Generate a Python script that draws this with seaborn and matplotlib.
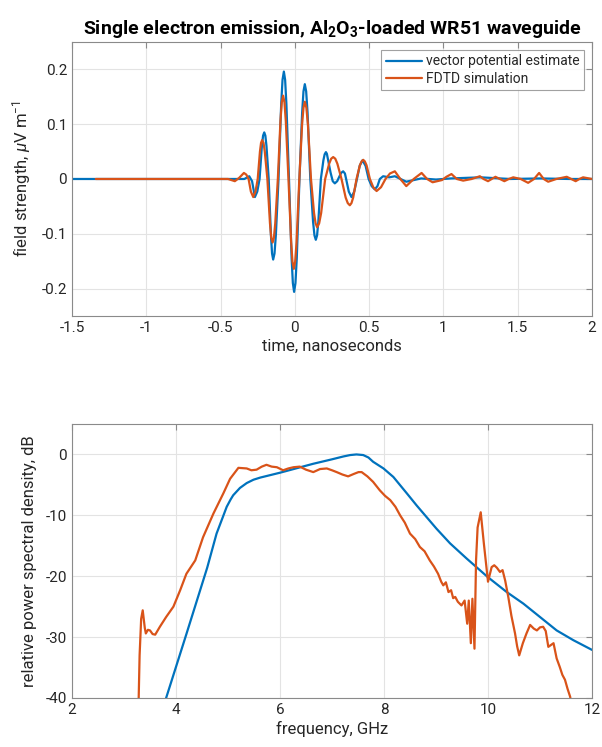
import numpy as np
import pandas as pd
import matplotlib
matplotlib.use("Agg")
import matplotlib.pyplot as plt
import seaborn as sns

# ---------------- data ----------------
# Top panel: time-domain field (ns, uV/m)
vp_time = [-1.50, -0.340, -0.307, -0.288, -0.269, -0.253, -0.2375, -0.222, -0.214, -0.206,
           -0.1985, -0.191, -0.176, -0.161, -0.1535, -0.146, -0.137, -0.128, -0.110,
           -0.092, -0.083, -0.074, -0.0655, -0.057, -0.0395, -0.022, -0.0135, -0.005,
           0.004, 0.013, 0.031, 0.049, 0.058, 0.067, 0.076, 0.0855, 0.104, 0.1225,
           0.132, 0.141, 0.1495, 0.158, 0.175, 0.192, 0.2005, 0.209, 0.2155,
           0.222, 0.240, 0.255, 0.269, 0.285, 0.297, 0.311, 0.325,
           0.337, 0.345, 0.363, 0.381, 0.3995, 0.418, 0.4365, 0.455,
           0.476, 0.4965, 0.517, 0.538, 0.556, 0.572, 0.594, 0.635,
           0.673, 0.75, 0.85, 0.95, 1.05, 1.25, 1.45, 1.65, 1.85, 2.00]
vp_field = [0.000, 0.000, 0.005, -0.004, -0.033, -0.023, 0.000, 0.060, 0.079, 0.085,
            0.079, 0.060, 0.000, -0.103, -0.136, -0.147, -0.136, -0.103, 0.000,
            0.137, 0.181, 0.196, 0.181, 0.137, 0.000, -0.144, -0.190, -0.206,
            -0.190, -0.144, 0.000, 0.121, 0.160, 0.173, 0.160, 0.121, 0.000, -0.078,
            -0.103, -0.111, -0.103, -0.078, 0.000, 0.034, 0.045, 0.049, 0.046,
            0.037, 0.012, -0.004, -0.008, -0.004, 0.003, 0.011, 0.014,
            0.010, 0.000, -0.023, -0.033, -0.023, 0.000, 0.024, 0.034,
            0.024, 0.000, -0.013, -0.019, -0.013, 0.000, 0.005, 0.003,
            0.005, -0.005, 0.001, -0.001, 0.001, 0.003, 0.000, 0.001, 0.000, 0.000]

fdtd_time = [-1.34, -0.45, -0.404, -0.375, -0.343, -0.327, -0.3115, -0.296, -0.28,
             -0.265, -0.25, -0.235, -0.2275, -0.22, -0.211, -0.2025, -0.185, -0.1675,
             -0.159, -0.15, -0.141, -0.132, -0.1145, -0.097, -0.088, -0.079, -0.070,
             -0.061, -0.043, -0.025, -0.016, -0.007, 0.002, 0.0115, 0.030, 0.0485,
             0.058, 0.067, 0.0775, 0.088, 0.1085, 0.129, 0.1395, 0.15, 0.1635,
             0.177, 0.204, 0.231, 0.2445, 0.258, 0.272, 0.286, 0.314, 0.342, 0.356, 0.37,
             0.381, 0.3925, 0.415, 0.4375, 0.449, 0.46, 0.471, 0.4825, 0.505, 0.5275, 0.55,
             0.58, 0.61, 0.64, 0.673, 0.71, 0.75, 0.80, 0.853, 0.89, 0.927,
             0.99, 1.02, 1.054, 1.09, 1.133, 1.19, 1.245, 1.27, 1.30, 1.325,
             1.35, 1.38, 1.41, 1.44, 1.47, 1.52, 1.57, 1.61, 1.644, 1.675,
             1.705, 1.76, 1.83, 1.86, 1.89, 1.915, 1.94, 2.00]
fdtd_field = [0.000, 0.000, -0.004, 0.002, 0.011, 0.008, 0.000, -0.023, -0.033,
              -0.023, 0.000, 0.050, 0.066, 0.071, 0.066, 0.050, 0.000, -0.081,
              -0.107, -0.116, -0.107, -0.081, 0.000, 0.106, 0.140, 0.152, 0.140,
              0.106, 0.000, -0.115, -0.151, -0.164, -0.151, -0.115, 0.000, 0.099,
              0.130, 0.141, 0.130, 0.099, 0.000, -0.062, -0.081, -0.088, -0.081,
              -0.062, 0.000, 0.028, 0.037, 0.040, 0.037, 0.028, 0.000, -0.034, -0.044, -0.048,
              -0.044, -0.034, 0.000, 0.025, 0.032, 0.035, 0.032, 0.025, 0.000, -0.015, -0.022,
              -0.015, 0.000, 0.010, 0.014, 0.000, -0.013, 0.000, 0.011, 0.000, -0.006,
              -0.002, 0.004, 0.009, 0.000, -0.003, 0.000, 0.005, 0.000, -0.004, 0.000,
              0.004, 0.000, -0.004, 0.000, 0.003, 0.000, -0.007, 0.000, 0.011, 0.000,
              -0.005, 0.000, 0.004, 0.000, -0.004, 0.000, 0.003, 0.000]

# Bottom panel: relative power spectral density (GHz, dB)
vp_freq = [3.70, 3.81, 4.20, 4.60, 4.78, 4.90, 4.975, 5.05, 5.10, 5.23, 5.36, 5.49,
           5.62, 6.00, 6.64, 7.00, 7.22, 7.35, 7.47, 7.60, 7.70, 7.79, 7.99, 8.18,
           8.44, 8.63, 8.82, 9.01, 9.27, 9.59, 9.99, 10.36, 10.68, 11.00, 11.32,
           11.64, 12.00]
vp_psd = [-43.0, -40.0, -29.5, -18.6, -13.0, -10.3, -8.6, -7.4, -6.7, -5.5, -4.7, -4.15,
          -3.8, -3.0, -1.53, -0.8, -0.33, -0.1, 0.0, -0.1, -0.5, -1.2, -2.3, -3.7,
          -6.4, -8.4, -10.3, -12.2, -14.6, -17.1, -20.1, -22.6, -24.5, -26.7, -28.9,
          -30.5, -32.1]

fdtd_freq = [3.27, 3.30, 3.33, 3.36, 3.40, 3.42, 3.46, 3.50, 3.55, 3.60, 3.69,
             3.81, 3.95, 4.08, 4.20, 4.37, 4.52, 4.72, 4.91, 5.04, 5.20, 5.36,
             5.45, 5.55, 5.65, 5.74, 5.84, 5.94, 6.06, 6.16, 6.26, 6.38, 6.50,
             6.64, 6.77, 6.90, 7.00, 7.09, 7.20, 7.31, 7.42, 7.51, 7.57, 7.68,
             7.79, 7.92, 8.02, 8.12, 8.22, 8.31, 8.40, 8.50, 8.60, 8.69, 8.78,
             8.88, 8.96, 9.04, 9.10, 9.14, 9.19, 9.24, 9.29, 9.33, 9.37, 9.42,
             9.49, 9.55, 9.60, 9.63, 9.67, 9.70, 9.74, 9.77, 9.80, 9.86, 9.92,
             10.00, 10.07, 10.12, 10.17, 10.23, 10.28, 10.33, 10.39, 10.45, 10.52,
             10.56, 10.60, 10.67, 10.74, 10.81, 10.88, 10.94, 11.00, 11.06, 11.11,
             11.16, 11.26, 11.32, 11.38, 11.43, 11.48, 11.53, 11.58, 11.62]
fdtd_psd = [-45.0, -33.0, -27.0, -25.6, -28.5, -29.4, -28.8, -28.9, -29.5, -29.6, -28.3,
            -26.7, -25.0, -22.3, -19.6, -17.4, -13.6, -9.7, -6.4, -4.0, -2.2, -2.3,
            -2.6, -2.5, -2.0, -1.7, -2.0, -2.1, -2.6, -2.3, -2.1, -2.0, -2.5,
            -2.9, -2.4, -2.3, -2.6, -2.9, -3.3, -3.6, -3.2, -2.9, -2.9, -3.6,
            -4.5, -5.9, -6.8, -7.5, -8.6, -10.0, -11.2, -13.0, -13.9, -15.2, -15.9,
            -17.4, -18.4, -19.6, -20.9, -21.5, -21.0, -22.6, -22.3, -23.6, -23.4, -24.2,
            -24.8, -24.0, -27.8, -24.0, -31.0, -23.7, -31.9, -17.4, -12.0, -9.5, -14.6,
            -20.9, -18.5, -18.2, -18.6, -19.3, -19.0, -20.7, -23.4, -26.5, -29.4,
            -31.5, -33.0, -31.0, -29.4, -28.0, -28.6, -28.9, -28.4, -28.3, -29.0,
            -31.6, -31.0, -33.5, -34.9, -36.2, -37.0, -38.5, -39.8, -42.0]

series_labels = ["vector potential estimate", "FDTD simulation"]
top_xticks = [-1.5, -1, -0.5, 0, 0.5, 1, 1.5, 2]
top_xticklabels = ["-1.5", "-1", "-0.5", "0", "0.5", "1", "1.5", "2"]
top_yticks = [-0.2, -0.1, 0, 0.1, 0.2]
top_yticklabels = ["-0.2", "-0.1", "0", "0.1", "0.2"]
bot_xticks = [2, 4, 6, 8, 10, 12]
bot_yticks = [-40, -30, -20, -10, 0]

# ---------------- style ----------------
sns.set_style("white")
plt.rcParams["font.family"] = ["Roboto", "DejaVu Sans"]
plt.rcParams["mathtext.fontset"] = "custom"
plt.rcParams["mathtext.rm"] = "Roboto"
plt.rcParams["mathtext.it"] = "Roboto:italic"
plt.rcParams["mathtext.bf"] = "Roboto:bold"
plt.rcParams["axes.unicode_minus"] = False

BLUE = "#0072BD"
ORANGE = "#D95319"
TXT = "#262626"
SPINE = "#8a8a8a"
GRID = "#e3e3e3"

fig = plt.figure(figsize=(6.02, 7.47), dpi=100)
ax1 = fig.add_axes([0.1196, 0.5770, 0.8638, 0.3668])
ax2 = fig.add_axes([0.1196, 0.0656, 0.8638, 0.3668])

top_df = pd.concat([
    pd.DataFrame({"t": vp_time, "v": vp_field, "s": series_labels[0]}),
    pd.DataFrame({"t": fdtd_time, "v": fdtd_field, "s": series_labels[1]}),
])
bot_df = pd.concat([
    pd.DataFrame({"f": vp_freq, "p": vp_psd, "s": series_labels[0]}),
    pd.DataFrame({"f": fdtd_freq, "p": fdtd_psd, "s": series_labels[1]}),
])
pal = {series_labels[0]: BLUE, series_labels[1]: ORANGE}

sns.lineplot(data=top_df, x="t", y="v", hue="s", palette=pal, sort=False,
             estimator=None, linewidth=1.6, ax=ax1)
sns.lineplot(data=bot_df, x="f", y="p", hue="s", palette=pal, sort=False,
             estimator=None, linewidth=1.6, ax=ax2, legend=False)

for ax in (ax1, ax2):
    ax.grid(True, color=GRID, linewidth=0.8)
    ax.set_axisbelow(True)
    for sp in ax.spines.values():
        sp.set_color(SPINE)
        sp.set_linewidth(0.8)
    ax.tick_params(direction="in", length=4, width=0.8, color=SPINE,
                   top=True, right=True, labelsize=11, labelcolor=TXT)

ax1.set_xlim(-1.5, 2)
ax1.set_ylim(-0.25, 0.25)
ax1.set_xticks(top_xticks)
ax1.set_xticklabels(top_xticklabels)
ax1.set_yticks(top_yticks)
ax1.set_yticklabels(top_yticklabels)
ax1.set_xlabel("time, nanoseconds", fontsize=12, color=TXT, labelpad=3)
ax1.set_ylabel(r"field strength, $\mu$V m$^{-1}$", fontsize=12, color=TXT, labelpad=6)
ax1.set_title(r"Single electron emission, Al$_\mathbf{2}$O$_\mathbf{3}$-loaded WR51 waveguide",
              fontsize=14, fontweight="bold", color="black", pad=6)
leg = ax1.legend(loc="upper right", fontsize=10, frameon=True, fancybox=False,
                 handlelength=2.6, handletextpad=0.3, borderpad=0.3,
                 labelspacing=0.25, borderaxespad=0.6)
leg.get_frame().set_edgecolor("#8a8a8a")
leg.get_frame().set_linewidth(0.8)
leg.set_title(None)

ax2.set_xlim(2, 12)
ax2.set_ylim(-40, 5)
ax2.set_xticks(bot_xticks)
ax2.set_yticks(bot_yticks)
ax2.set_xlabel("frequency, GHz", fontsize=12, color=TXT, labelpad=3)
ax2.set_ylabel("relative power spectral density, dB", fontsize=12, color=TXT, labelpad=6)

fig.savefig("out.png", dpi=100)
